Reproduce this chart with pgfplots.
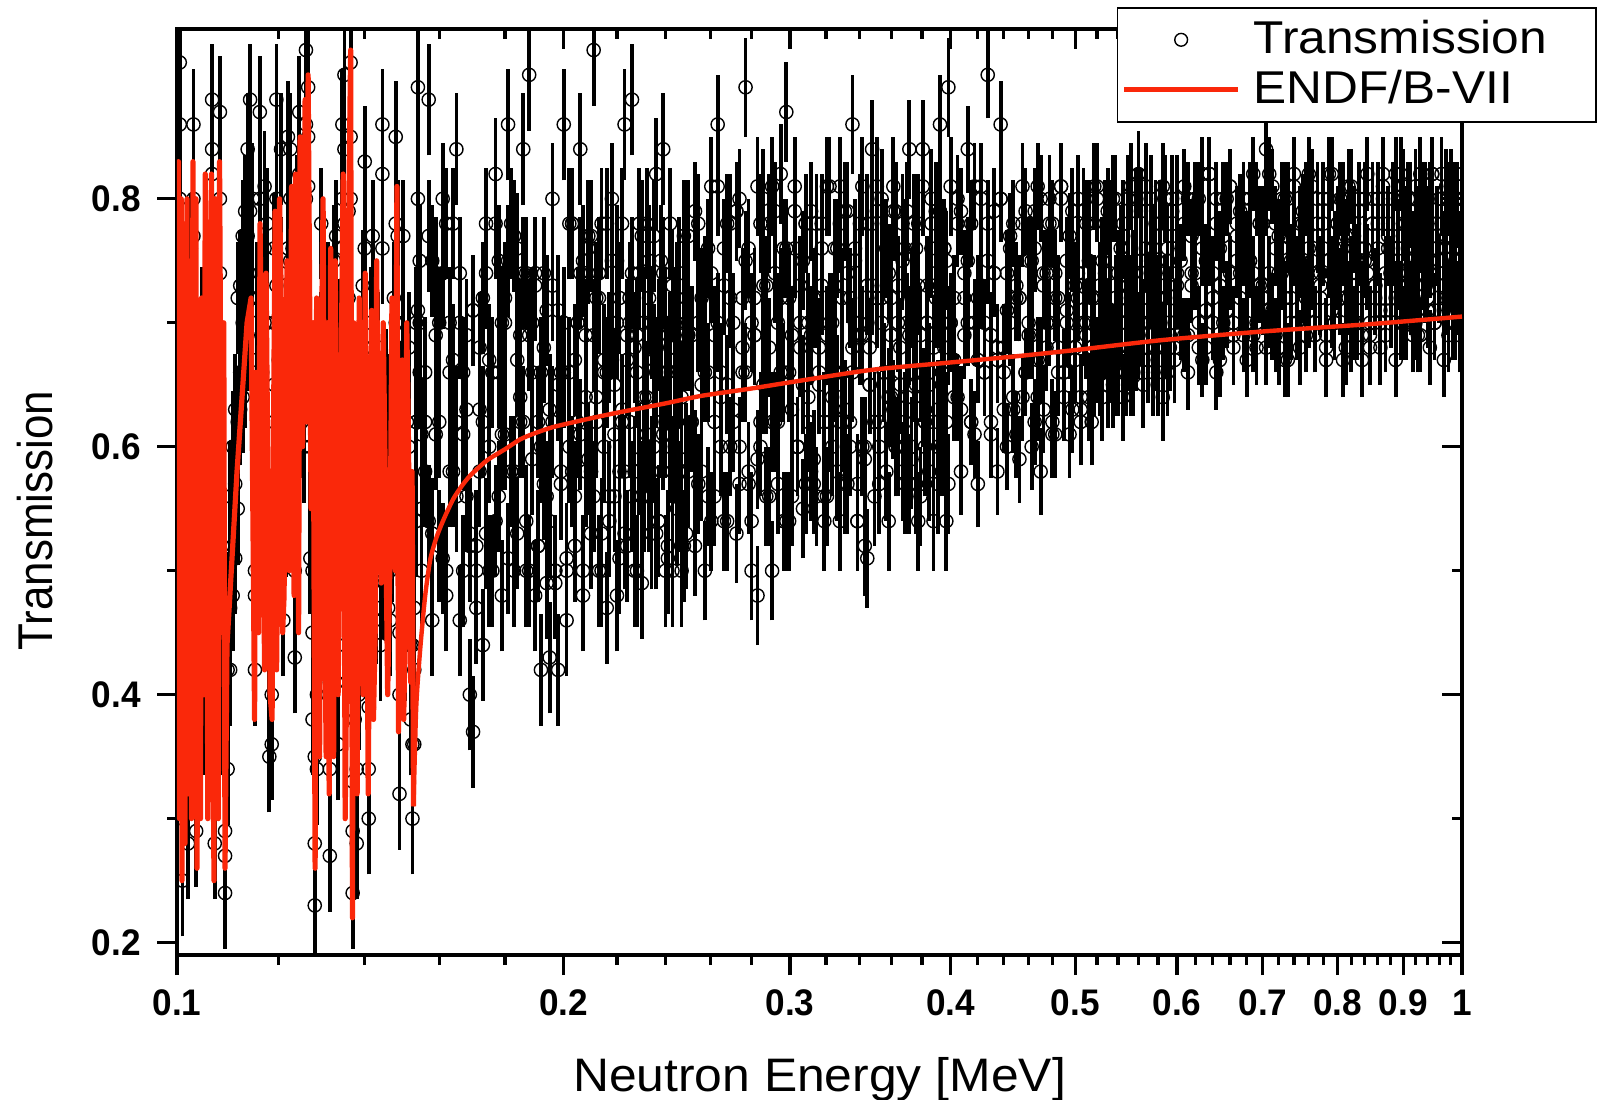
\documentclass[border=0pt]{standalone}
\usepackage{fontspec}
\setmainfont{Liberation Sans}
\newfontfamily\tickfont[FakeStretch=0.95]{Liberation Sans}
\newfontfamily\xlabfont[FakeStretch=1.06]{Liberation Sans}
\newfontfamily\ylabfont[FakeStretch=0.90]{Liberation Sans}
\newfontfamily\legfont[FakeStretch=1.08]{Liberation Sans}
\usepackage{pgfplots}
\usepackage{pgfplotstable}
\pgfplotsset{compat=1.18}
\definecolor{endfred}{RGB}{250,40,10}

% open circle with a vertical error bar of fixed half-length (y unit = 619.8pt)
\newcommand\declarebarmark[2]{%
  \pgfdeclareplotmark{#1}{%
    \pgfsetlinewidth{1.9pt}%
    \pgfpathmoveto{\pgfqpoint{0pt}{-#2}}\pgfpathlineto{\pgfqpoint{0pt}{#2}}%
    \pgfusepathqstroke
    \pgfsetlinewidth{0.7pt}%
    \pgfpathcircle{\pgfpointorigin}{3.3pt}%
    \pgfusepathqstroke}}
\declarebarmark{barA}{27.9pt}% error 0.045
\declarebarmark{barC}{24.8pt}% error 0.040
\declarebarmark{barD}{21.7pt}% error 0.035
\declarebarmark{barE}{18.6pt}% error 0.030

\pgfplotstableread{
x y e y2 y3
0.1000 0.62 0.045 0.69 0.53
0.1005 0.86 0.045 0.80 0.91
0.1010 0.30 0.045 0.35 0.25
0.1015 0.62 0.045 0.54 0.70
0.1020 0.34 0.045 0.43 0.28
0.1025 0.66 0.045 0.62 0.76
0.1030 0.80 0.045 0.86 0.77
0.1035 0.36 0.045 0.29 0.43
0.1040 0.52 0.045 0.59 0.44
0.1045 0.70 0.045 0.64 0.61
0.1050 0.42 0.045 0.47 0.38
0.1055 0.66 0.045 0.58 0.61
0.1060 0.50 0.045 0.59 0.42
0.1065 0.88 0.045 0.84 0.82
0.1070 0.28 0.045 0.34 0.38
0.1075 0.64 0.045 0.57 0.61
0.1080 0.80 0.045 0.87 0.74
0.1085 0.46 0.045 0.40 0.38
0.1090 0.24 0.045 0.29 0.27
0.1095 0.42 0.045 0.34 0.47
0.1100 0.47 0.045 0.56 0.42
0.1105 0.52 0.045 0.48 0.60
0.1110 0.57 0.045 0.63 0.51
0.1115 0.62 0.045 0.55 0.72
0.1120 0.66 0.045 0.73 0.63
0.1125 0.70 0.045 0.64 0.77
0.1130 0.74 0.045 0.79 0.66
0.1135 0.77 0.045 0.69 0.84
0.1140 0.79 0.045 0.88 0.72
0.1145 0.71 0.045 0.67 0.80
0.1150 0.42 0.045 0.48 0.50
0.1155 0.63 0.045 0.56 0.72
0.1160 0.80 0.045 0.87 0.74
0.1165 0.58 0.045 0.52 0.66
0.1170 0.76 0.045 0.81 0.70
0.1175 0.70 0.045 0.62 0.78
0.1180 0.44 0.045 0.53 0.35
0.1185 0.40 0.045 0.36 0.45
0.1190 0.70 0.045 0.76 0.65
0.1195 0.80 0.045 0.73 0.88
0.1200 0.60 0.045 0.67 0.54
0.1205 0.74 0.045 0.68 0.84
0.1210 0.55 0.045 0.60 0.46
0.1215 0.62 0.045 0.54 0.69
0.1220 0.76 0.045 0.85 0.68
0.1225 0.84 0.045 0.80 0.75
0.1230 0.70 0.045 0.76 0.62
0.1235 0.50 0.045 0.43 0.58
0.1240 0.72 0.045 0.79 0.64
0.1245 0.82 0.045 0.76 0.87
0.1250 0.70 0.045 0.75 0.62
0.1255 0.68 0.045 0.60 0.78
0.1260 0.86 0.045 0.92 0.80
0.1265 0.89 0.045 0.85 0.81
0.1270 0.60 0.045 0.66 0.51
0.1275 0.45 0.045 0.38 0.50
0.1280 0.28 0.045 0.35 0.23
0.1285 0.40 0.045 0.34 0.48
0.1290 0.56 0.045 0.61 0.50
0.1295 0.68 0.045 0.60 0.78
0.1300 0.54 0.045 0.63 0.51
0.1305 0.48 0.045 0.44 0.55
0.1310 0.66 0.045 0.72 0.58
0.1315 0.34 0.045 0.27 0.41
0.1320 0.54 0.045 0.61 0.47
0.1325 0.68 0.045 0.62 0.75
0.1330 0.72 0.045 0.77 0.66
0.1335 0.44 0.045 0.36 0.52
0.1340 0.60 0.045 0.69 0.54
0.1345 0.80 0.045 0.76 0.86
0.1350 0.90 0.045 0.84 0.78
0.1355 0.48 0.045 0.41 0.56
0.1360 0.72 0.045 0.79 0.63
0.1365 0.91 0.045 0.85 0.80
0.1370 0.24 0.045 0.29 0.33
0.1375 0.46 0.045 0.38 0.54
0.1380 0.34 0.045 0.43 0.28
0.1385 0.44 0.045 0.40 0.54
0.1390 0.56 0.045 0.62 0.48
0.1395 0.66 0.045 0.59 0.73
0.1400 0.76 0.045 0.83 0.68
0.1405 0.52 0.045 0.46 0.60
0.1410 0.34 0.045 0.39 0.30
0.1415 0.64 0.045 0.56 0.70
0.1420 0.68 0.045 0.77 0.62
0.1425 0.50 0.045 0.46 0.57
0.1430 0.52 0.045 0.58 0.47
0.1435 0.62 0.045 0.55 0.68
0.1440 0.50 0.045 0.57 0.44
0.1445 0.82 0.045 0.76 0.86
0.1450 0.58 0.045 0.63 0.49
0.1455 0.60 0.045 0.52 0.65
0.1460 0.54 0.045 0.63 0.47
0.1465 0.50 0.045 0.46 0.58
0.1470 0.58 0.045 0.64 0.52
0.1475 0.62 0.045 0.55 0.72
0.1480 0.78 0.045 0.85 0.70
0.1485 0.70 0.045 0.64 0.77
0.1490 0.40 0.045 0.45 0.32
0.1495 0.58 0.045 0.50 0.64
0.1500 0.68 0.045 0.77 0.62
0.1505 0.48 0.045 0.44 0.55
0.1510 0.56 0.045 0.62 0.50
0.1515 0.60 0.045 0.53 0.68
0.1520 0.44 0.045 0.51 0.38
0.1525 0.36 0.045 0.30 0.44
0.1530 0.42 0.045 0.47 0.36
0.1535 0.62 0.045 0.54 0.70
0.1540 0.80 0.045 0.89 0.71
0.1545 0.70 0.045 0.66 0.75
0.1550 0.55 0.045 0.61 0.50
0.156 0.62 0.045 0.66 0.58
0.157 0.88 0.045 0.54 0.77
0.158 0.46 0.045 0.75 0.53
0.159 0.74 0.045 0.61 0.69
0.160 0.52 0.045 0.70 0.62
0.161 0.80 0.045 0.51 0.74
0.162 0.48 0.045 0.78 0.50
0.163 0.70 0.045 0.58 0.66
0.164 0.58 0.045 0.67 0.78
0.165 0.84 0.045 0.62 0.56
0.166 0.46 0.045 0.74 0.70
0.167 0.66 0.045 0.50 0.61
0.168 0.56 0.045 0.63 0.69
0.169 0.40 0.045 0.53 0.52
0.170 0.37 0.045 0.71 0.71
0.171 0.52 0.045 0.50 0.47
0.172 0.68 0.045 0.58 0.63
0.173 0.44 0.045 0.72 0.62
0.174 0.78 0.045 0.53 0.74
0.175 0.60 0.045 0.67 0.50
0.176 0.50 0.045 0.66 0.66
0.177 0.82 0.045 0.54 0.78
0.178 0.66 0.045 0.75 0.56
0.179 0.48 0.045 0.61 0.70
0.180 0.72 0.045 0.70 0.61
0.181 0.86 0.045 0.51 0.75
0.182 0.58 0.045 0.78 0.58
0.183 0.50 0.045 0.58 0.77
0.184 0.76 0.045 0.67 0.53
0.185 0.64 0.045 0.62 0.69
0.186 0.84 0.045 0.74 0.62
0.187 0.54 0.045 0.50 0.74
0.188 0.90 0.045 0.69 0.50
0.189 0.70 0.045 0.59 0.66
0.190 0.48 0.045 0.73 0.74
0.191 0.62 0.045 0.52 0.52
0.192 0.42 0.045 0.60 0.66
0.193 0.74 0.045 0.68 0.57
0.194 0.56 0.045 0.49 0.71
0.195 0.43 0.045 0.63 0.54
0.196 0.80 0.045 0.62 0.73
0.197 0.50 0.045 0.50 0.49
0.198 0.42 0.045 0.71 0.65
0.199 0.66 0.045 0.57 0.58
0.200 0.86 0.045 0.66 0.70
0.201 0.46 0.045 0.51 0.50
0.202 0.60 0.045 0.78 0.66
0.203 0.78 0.045 0.58 0.78
0.204 0.52 0.045 0.67 0.56
0.205 0.70 0.045 0.62 0.70
0.206 0.84 0.045 0.74 0.61
0.207 0.48 0.045 0.50 0.75
0.208 0.64 0.045 0.69 0.58
0.209 0.76 0.045 0.59 0.77
0.210 0.58 0.045 0.77 0.53
0.211 0.92 0.045 0.56 0.69
0.212 0.72 0.045 0.64 0.62
0.213 0.50 0.045 0.72 0.74
0.214 0.78 0.045 0.53 0.50
0.215 0.60 0.045 0.67 0.66
0.216 0.47 0.045 0.66 0.78
0.217 0.68 0.045 0.54 0.56
0.218 0.80 0.045 0.75 0.70
0.219 0.56 0.045 0.61 0.65
0.220 0.48 0.045 0.70 0.75
0.221 0.72 0.045 0.51 0.58
0.222 0.62 0.045 0.78 0.63
0.223 0.86 0.045 0.58 0.53
0.224 0.52 0.045 0.67 0.69
0.225 0.70 0.045 0.62 0.72
0.226 0.88 0.045 0.74 0.56
0.227 0.58 0.045 0.50 0.68
0.228 0.50 0.045 0.69 0.66
0.229 0.74 0.045 0.59 0.78
0.230 0.49 0.045 0.77 0.56
0.231 0.64 0.045 0.56 0.70
0.232 0.78 0.045 0.64 0.61
0.233 0.56 0.045 0.72 0.75
0.234 0.70 0.045 0.53 0.58
0.235 0.60 0.045 0.67 0.77
0.236 0.82 0.045 0.66 0.53
0.237 0.54 0.045 0.54 0.69
0.238 0.66 0.045 0.75 0.62
0.239 0.84 0.045 0.61 0.74
0.240 0.62 0.045 0.70 0.50
0.241 0.52 0.045 0.51 0.66
0.242 0.68 0.045 0.78 0.60
0.243 0.50 0.045 0.58 0.73
0.244 0.60 0.045 0.67 0.70
0.245 0.72 0.045 0.62 0.55
0.246 0.56 0.045 0.74 0.66
0.247 0.64 0.045 0.50 0.58
0.248 0.52 0.045 0.69 0.77
0.249 0.70 0.045 0.59 0.53
0.250 0.58 0.045 0.77 0.69
}\tA

\pgfplotstableread{
x y e y2 y3
0.2515 0.62 0.04 0.69 0.62
0.2530 0.52 0.04 0.59 0.79
0.2545 0.70 0.04 0.78 0.57
0.2560 0.58 0.04 0.65 0.72
0.2575 0.50 0.04 0.73 0.66
0.2590 0.66 0.04 0.56 0.76
0.2605 0.74 0.04 0.81 0.54
0.2620 0.56 0.04 0.62 0.69
0.2635 0.86 0.04 0.70 0.81
0.2650 0.64 0.04 0.66 0.60
0.2665 0.54 0.04 0.76 0.73
0.2680 0.78 0.04 0.54 0.65
0.2695 0.60 0.04 0.72 0.78
0.2710 0.70 0.04 0.63 0.62
0.2725 0.53 0.04 0.79 0.79
0.2740 0.80 0.04 0.60 0.57
0.2755 0.66 0.04 0.68 0.72
0.2770 0.89 0.04 0.75 0.66
0.2785 0.58 0.04 0.57 0.76
0.2800 0.50 0.04 0.70 0.54
0.2815 0.72 0.04 0.69 0.69
0.2830 0.48 0.04 0.59 0.81
0.2845 0.62 0.04 0.78 0.60
0.2860 0.80 0.04 0.65 0.73
0.2875 0.56 0.04 0.73 0.65
0.2890 0.68 0.04 0.56 0.78
0.2905 0.50 0.04 0.81 0.62
0.2920 0.74 0.04 0.62 0.79
0.2935 0.62 0.04 0.70 0.57
0.2950 0.82 0.04 0.66 0.72
0.2965 0.54 0.04 0.76 0.66
0.2980 0.87 0.04 0.54 0.76
0.2995 0.66 0.04 0.72 0.54
0.3010 0.56 0.04 0.63 0.69
0.3025 0.76 0.04 0.79 0.81
0.3040 0.60 0.04 0.60 0.60
0.3055 0.70 0.04 0.68 0.73
0.3070 0.55 0.04 0.75 0.65
0.3085 0.78 0.04 0.57 0.78
0.3100 0.64 0.04 0.70 0.62
0.3115 0.58 0.04 0.69 0.79
0.3130 0.72 0.04 0.59 0.57
0.3145 0.56 0.04 0.78 0.72
0.3160 0.68 0.04 0.65 0.66
0.3175 0.78 0.04 0.73 0.76
0.3190 0.62 0.04 0.56 0.54
0.3205 0.56 0.04 0.81 0.69
0.3220 0.70 0.04 0.62 0.81
0.3235 0.64 0.04 0.70 0.60
0.3250 0.76 0.04 0.66 0.73
0.3265 0.58 0.04 0.76 0.65
0.3280 0.81 0.04 0.54 0.78
0.3295 0.66 0.04 0.72 0.62
0.3310 0.57 0.04 0.63 0.79
0.3325 0.74 0.04 0.79 0.57
0.3340 0.62 0.04 0.60 0.72
0.3355 0.86 0.04 0.68 0.66
0.3370 0.70 0.04 0.75 0.76
0.3385 0.54 0.04 0.57 0.54
0.3400 0.78 0.04 0.70 0.69
0.3415 0.60 0.04 0.69 0.81
0.3430 0.52 0.04 0.59 0.60
0.3445 0.51 0.04 0.78 0.73
0.3460 0.68 0.04 0.65 0.65
0.3475 0.84 0.04 0.73 0.78
0.3490 0.62 0.04 0.56 0.62
0.3505 0.72 0.04 0.81 0.79
0.3520 0.60 0.04 0.62 0.57
0.3535 0.80 0.04 0.70 0.72
0.3550 0.66 0.04 0.66 0.66
0.3565 0.58 0.04 0.76 0.76
0.3580 0.74 0.04 0.54 0.64
0.3595 0.64 0.04 0.72 0.69
0.3610 0.79 0.04 0.63 0.81
0.3625 0.60 0.04 0.79 0.60
0.3640 0.70 0.04 0.60 0.73
0.3655 0.66 0.04 0.68 0.65
0.3670 0.58 0.04 0.75 0.78
0.3685 0.76 0.04 0.57 0.62
0.3700 0.64 0.04 0.70 0.79
0.3715 0.84 0.04 0.69 0.57
0.3730 0.60 0.04 0.59 0.72
0.3745 0.72 0.04 0.78 0.66
0.3760 0.57 0.04 0.65 0.76
0.3775 0.78 0.04 0.73 0.54
0.3790 0.66 0.04 0.56 0.69
0.3805 0.84 0.04 0.81 0.64
0.3820 0.62 0.04 0.62 0.60
0.3835 0.70 0.04 0.70 0.73
0.3850 0.58 0.04 0.66 0.65
0.3865 0.80 0.04 0.76 0.78
0.3880 0.68 0.04 0.54 0.62
0.3895 0.74 0.04 0.72 0.79
0.3910 0.60 0.04 0.63 0.57
0.3925 0.86 0.04 0.79 0.72
0.3940 0.66 0.04 0.60 0.66
0.3955 0.76 0.04 0.68 0.76
0.3970 0.62 0.04 0.75 0.54
0.3985 0.89 0.04 0.57 0.69
0.4000 0.70 0.04 0.70 0.81
}\tC

\pgfplotstableread{
x y e y2 y3
0.4025 0.64 0.035 0.72 0.67
0.4050 0.78 0.035 0.64 0.80
0.4075 0.58 0.035 0.79 0.63
0.4100 0.72 0.035 0.69 0.74
0.4125 0.84 0.035 0.75 0.70
0.4150 0.62 0.035 0.62 0.78
0.4175 0.70 0.035 0.81 0.61
0.4200 0.57 0.035 0.67 0.72
0.4225 0.80 0.035 0.73 0.81
0.4250 0.66 0.035 0.70 0.66
0.4275 0.90 0.035 0.78 0.75
0.4300 0.62 0.035 0.61 0.69
0.4325 0.74 0.035 0.74 0.79
0.4350 0.58 0.035 0.68 0.67
0.4375 0.86 0.035 0.80 0.80
0.4400 0.68 0.035 0.66 0.63
0.4425 0.60 0.035 0.71 0.74
0.4450 0.76 0.035 0.77 0.70
0.4475 0.64 0.035 0.63 0.78
0.4500 0.72 0.035 0.73 0.61
0.4525 0.59 0.035 0.72 0.72
0.4550 0.78 0.035 0.64 0.81
0.4575 0.66 0.035 0.79 0.66
0.4600 0.70 0.035 0.69 0.75
0.4625 0.60 0.035 0.75 0.69
0.4650 0.76 0.035 0.62 0.79
0.4675 0.64 0.035 0.81 0.67
0.4700 0.58 0.035 0.67 0.80
0.4725 0.74 0.035 0.73 0.63
0.4750 0.68 0.035 0.70 0.74
0.4775 0.80 0.035 0.78 0.70
0.4800 0.62 0.035 0.61 0.78
0.4825 0.72 0.035 0.74 0.61
0.4850 0.66 0.035 0.68 0.72
0.4875 0.81 0.035 0.80 0.81
0.4900 0.64 0.035 0.66 0.66
0.4925 0.70 0.035 0.71 0.75
0.4950 0.61 0.035 0.77 0.69
0.4975 0.76 0.035 0.63 0.79
0.5000 0.68 0.035 0.73 0.67
0.5025 0.74 0.035 0.72 0.80
0.5050 0.62 0.035 0.64 0.63
0.5075 0.70 0.035 0.79 0.74
0.5100 0.78 0.035 0.69 0.70
0.5125 0.64 0.035 0.75 0.78
0.5150 0.72 0.035 0.62 0.68
0.5175 0.66 0.035 0.81 0.72
0.5200 0.80 0.035 0.67 0.81
0.5225 0.68 0.035 0.73 0.66
0.5250 0.64 0.035 0.70 0.75
0.5275 0.74 0.035 0.78 0.69
0.5300 0.70 0.035 0.65 0.79
0.5325 0.78 0.035 0.74 0.67
0.5350 0.65 0.035 0.68 0.80
0.5375 0.72 0.035 0.80 0.66
0.5400 0.68 0.035 0.66 0.74
0.5425 0.76 0.035 0.71 0.70
0.5450 0.64 0.035 0.77 0.78
0.5475 0.70 0.035 0.66 0.72
0.5500 0.80 0.035 0.73 0.68
0.5525 0.66 0.035 0.72 0.81
0.5550 0.74 0.035 0.67 0.66
0.5575 0.68 0.035 0.79 0.75
0.5600 0.82 0.035 0.69 0.69
0.5625 0.70 0.035 0.75 0.79
0.5650 0.65 0.035 0.70 0.67
0.5675 0.76 0.035 0.81 0.80
0.5700 0.72 0.035 0.67 0.68
0.5725 0.80 0.035 0.73 0.74
0.5750 0.66 0.035 0.70 0.76
0.5775 0.74 0.035 0.78 0.68
0.5800 0.70 0.035 0.72 0.66
0.5825 0.78 0.035 0.74 0.72
0.5850 0.64 0.035 0.68 0.81
0.5875 0.72 0.035 0.80 0.69
0.5900 0.76 0.035 0.66 0.75
0.5925 0.68 0.035 0.71 0.69
0.5950 0.80 0.035 0.77 0.79
0.5975 0.70 0.035 0.68 0.67
0.6000 0.74 0.035 0.73 0.80
}\tD

\pgfplotstableread{
x y e y2 y3
0.604 0.70 0.03 0.75 0.71
0.608 0.78 0.03 0.69 0.81
0.612 0.66 0.03 0.80 0.69
0.616 0.74 0.03 0.73 0.77
0.620 0.80 0.03 0.78 0.74
0.624 0.70 0.03 0.68 0.80
0.628 0.76 0.03 0.82 0.67
0.632 0.68 0.03 0.71 0.75
0.636 0.82 0.03 0.76 0.82
0.640 0.72 0.03 0.74 0.70
0.644 0.66 0.03 0.80 0.78
0.648 0.76 0.03 0.67 0.73
0.652 0.70 0.03 0.77 0.80
0.656 0.80 0.03 0.72 0.71
0.660 0.74 0.03 0.81 0.81
0.664 0.68 0.03 0.70 0.69
0.668 0.78 0.03 0.75 0.77
0.672 0.72 0.03 0.79 0.74
0.676 0.76 0.03 0.69 0.80
0.680 0.70 0.03 0.76 0.67
0.684 0.80 0.03 0.75 0.75
0.688 0.74 0.03 0.69 0.82
0.692 0.68 0.03 0.80 0.70
0.696 0.78 0.03 0.73 0.78
0.700 0.72 0.03 0.78 0.73
0.704 0.84 0.03 0.68 0.80
0.708 0.74 0.03 0.82 0.71
0.712 0.70 0.03 0.71 0.81
0.716 0.78 0.03 0.76 0.69
0.720 0.68 0.03 0.74 0.77
0.724 0.76 0.03 0.80 0.74
0.728 0.72 0.03 0.67 0.80
0.732 0.80 0.03 0.77 0.67
0.736 0.70 0.03 0.72 0.75
0.740 0.76 0.03 0.81 0.82
0.744 0.74 0.03 0.70 0.70
0.748 0.68 0.03 0.75 0.78
0.752 0.78 0.03 0.79 0.73
0.756 0.72 0.03 0.69 0.80
0.760 0.82 0.03 0.76 0.71
0.764 0.74 0.03 0.75 0.81
0.768 0.70 0.03 0.69 0.69
0.772 0.78 0.03 0.80 0.77
0.776 0.72 0.03 0.73 0.74
0.780 0.76 0.03 0.78 0.80
0.784 0.69 0.03 0.68 0.67
0.788 0.80 0.03 0.82 0.75
0.792 0.74 0.03 0.71 0.82
0.796 0.70 0.03 0.76 0.70
0.800 0.78 0.03 0.74 0.78
0.804 0.72 0.03 0.80 0.73
0.808 0.76 0.03 0.67 0.80
0.812 0.68 0.03 0.77 0.71
0.816 0.80 0.03 0.72 0.81
0.820 0.74 0.03 0.81 0.69
0.824 0.78 0.03 0.70 0.77
0.828 0.70 0.03 0.75 0.74
0.832 0.76 0.03 0.79 0.80
0.836 0.72 0.03 0.69 0.67
0.840 0.80 0.03 0.76 0.75
0.844 0.74 0.03 0.75 0.82
0.848 0.68 0.03 0.69 0.70
0.852 0.78 0.03 0.80 0.78
0.856 0.72 0.03 0.73 0.73
0.860 0.76 0.03 0.78 0.80
0.864 0.70 0.03 0.68 0.71
0.868 0.80 0.03 0.82 0.81
0.872 0.74 0.03 0.71 0.69
0.876 0.78 0.03 0.76 0.77
0.880 0.71 0.03 0.74 0.74
0.884 0.76 0.03 0.80 0.80
0.888 0.82 0.03 0.67 0.72
0.892 0.74 0.03 0.77 0.75
0.896 0.70 0.03 0.72 0.82
0.900 0.78 0.03 0.81 0.70
0.904 0.74 0.03 0.70 0.78
0.908 0.80 0.03 0.75 0.73
0.912 0.72 0.03 0.79 0.80
0.916 0.76 0.03 0.69 0.71
0.920 0.70 0.03 0.76 0.81
0.924 0.78 0.03 0.75 0.69
0.928 0.82 0.03 0.69 0.77
0.932 0.74 0.03 0.80 0.74
0.936 0.78 0.03 0.73 0.80
0.940 0.72 0.03 0.78 0.71
0.944 0.80 0.03 0.68 0.75
0.948 0.76 0.03 0.82 0.82
0.952 0.70 0.03 0.71 0.70
0.956 0.78 0.03 0.76 0.78
0.960 0.74 0.03 0.74 0.73
0.964 0.82 0.03 0.80 0.80
0.968 0.76 0.03 0.67 0.71
0.972 0.72 0.03 0.77 0.81
0.976 0.80 0.03 0.72 0.69
0.980 0.74 0.03 0.81 0.77
0.984 0.78 0.03 0.70 0.74
0.988 0.70 0.03 0.75 0.80
0.992 0.80 0.03 0.79 0.72
0.996 0.76 0.03 0.69 0.75
1.000 0.74 0.03 0.76 0.82
}\tE

\pgfplotstableread{
x y
0.10000 0.60
0.10014 0.35
0.10027 0.83
0.10045 0.30
0.10063 0.55
0.10077 0.80
0.10090 0.25
0.10108 0.78
0.10126 0.45
0.10145 0.28
0.10163 0.70
0.10182 0.80
0.10200 0.32
0.10218 0.75
0.10236 0.55
0.10264 0.30
0.10291 0.83
0.10310 0.40
0.10328 0.50
0.10346 0.80
0.10365 0.26
0.10389 0.45
0.10412 0.60
0.10430 0.30
0.10449 0.72
0.10472 0.58
0.10496 0.40
0.10520 0.82
0.10544 0.70
0.10568 0.30
0.10591 0.45
0.10615 0.62
0.10638 0.82
0.10662 0.40
0.10686 0.25
0.10715 0.80
0.10744 0.60
0.10769 0.30
0.10793 0.83
0.10822 0.60
0.10851 0.45
0.10875 0.70
0.10899 0.26
0.10938 0.44
0.11136 0.58
0.11338 0.70
0.11420 0.72
0.11492 0.38
0.11518 0.66
0.11543 0.60
0.11574 0.45
0.11605 0.78
0.11668 0.55
0.11700 0.42
0.11731 0.74
0.11774 0.56
0.11816 0.40
0.11858 0.38
0.11890 0.62
0.11922 0.79
0.11954 0.42
0.11986 0.55
0.12018 0.80
0.12051 0.73
0.12084 0.45
0.12116 0.48
0.12149 0.66
0.12181 0.75
0.12230 0.50
0.12280 0.81
0.12307 0.70
0.12335 0.48
0.12368 0.82
0.12402 0.70
0.12435 0.45
0.12469 0.85
0.12525 0.60
0.12581 0.88
0.12615 0.62
0.12649 0.90
0.12717 0.55
0.12763 0.70
0.12809 0.26
0.12843 0.72
0.12878 0.50
0.12912 0.35
0.12947 0.66
0.12993 0.80
0.13040 0.45
0.13064 0.35
0.13088 0.70
0.13135 0.32
0.13170 0.76
0.13206 0.55
0.13241 0.35
0.13277 0.75
0.13312 0.60
0.13348 0.40
0.13408 0.62
0.13469 0.82
0.13517 0.30
0.13566 0.45
0.13608 0.80
0.13651 0.92
0.13695 0.22
0.13728 0.70
0.13762 0.50
0.13811 0.32
0.13861 0.72
0.13911 0.55
0.13961 0.40
0.14011 0.74
0.14049 0.55
0.14087 0.32
0.14175 0.71
0.14220 0.38
0.14264 0.45
0.14302 0.75
0.14341 0.60
0.14419 0.49
0.14471 0.70
0.14523 0.58
0.14588 0.40
0.14654 0.52
0.14700 0.72
0.14746 0.62
0.14790 0.50
0.14831 0.81
0.14874 0.37
0.14923 0.55
0.14972 0.67
0.15012 0.38
0.15053 0.45
0.15094 0.70
0.15135 0.62
0.15203 0.41
0.15240 0.58
0.15279 0.31
}\endfres

\pgfplotstableread{
x y
0.15279 0.31
0.15353 0.39
0.15464 0.437
0.15603 0.48
0.15744 0.509
0.1590 0.525
0.1603 0.535
0.1620 0.546
0.1641 0.558
0.1665 0.568
0.1692 0.577
0.1743 0.589
0.1800 0.598
0.1850 0.606
0.1900 0.611
0.1964 0.616
0.2100 0.623
0.2214 0.628
0.2400 0.635
0.2557 0.641
0.2800 0.647
0.3000 0.652
0.3469 0.662
0.4000 0.668
0.4500 0.673
0.5000 0.678
0.5837 0.686
0.7000 0.693
0.8500 0.699
1.0000 0.705
}\endfsmooth

\begin{document}
\begin{tikzpicture}
\path[use as bounding box] (-88.5pt,-72pt) rectangle (711pt,477.5pt);
\begin{axis}[
  at={(0pt,0pt)}, anchor=south west,
  scale only axis, width=642.5pt, height=463pt,
  xmode=log, xmin=0.1, xmax=1, ymin=0.19, ymax=0.937,
  xtick={0.1,0.2,0.3,0.4,0.5,0.6,0.7,0.8,0.9,1},
  minor xtick={0.12,0.14,0.16,0.18,0.22,0.24,0.26,0.28,0.32,0.34,0.36,0.38,0.42,0.44,0.46,0.48,0.52,0.54,0.56,0.58,0.62,0.64,0.66,0.68,0.72,0.74,0.76,0.78,0.82,0.84,0.86,0.88,0.92,0.94,0.96,0.98},
  ytick={0.2,0.4,0.6,0.8},
  minor ytick={0.3,0.5,0.7},
  major tick length=10pt, minor tick length=5pt,
  tick style={line width=1.6pt, black},
  axis line style={line width=1.6pt},
  xtick pos=right, ytick pos=right, tick align=inside,
  xticklabels={}, yticklabels={},
]
\addplot[draw=none, forget plot] coordinates {(0.5,0.5)};
\end{axis}
\begin{axis}[
  at={(0pt,0pt)}, anchor=south west,
  scale only axis, width=642.5pt, height=463pt,
  xmode=log, xmin=0.1, xmax=1, ymin=0.19, ymax=0.937,
  clip mode=individual, clip marker paths=true,
  xtick={0.1,0.2,0.3,0.4,0.5,0.6,0.7,0.8,0.9,1},
  minor xtick={0.12,0.14,0.16,0.18,0.22,0.24,0.26,0.28,0.32,0.34,0.36,0.38,0.42,0.44,0.46,0.48,0.52,0.54,0.56,0.58,0.62,0.64,0.66,0.68,0.72,0.74,0.76,0.78,0.82,0.84,0.86,0.88,0.92,0.94,0.96,0.98},
  ytick={0.2,0.4,0.6,0.8},
  minor ytick={0.3,0.5,0.7},
  major tick length=10pt, minor tick length=5pt,
  tick style={line width=1.6pt, black},
  axis line style={line width=1.6pt},
  xtick pos=left, ytick pos=left, tick align=outside,
  xticklabels={0.1,0.2,0.3,0.4,0.5,0.6,0.7,0.8,0.9,1},
  yticklabels={0.2,0.4,0.6,0.8},
  ticklabel style={font=\tickfont\bfseries\fontsize{18.5}{19}\selectfont},
  xticklabel style={anchor=base, inner sep=0pt},
  xticklabel shift=20pt,
  yticklabel style={anchor=east, inner sep=0pt},
  yticklabel shift=8pt,
  xlabel={Neutron Energy [MeV]},
  ylabel={Transmission},
  xlabel style={at={(axis description cs:0.5,-0.1469)}, anchor=base, font=\xlabfont\fontsize{23.5}{25}\selectfont},
  ylabel style={at={(axis description cs:-0.0965,0.469)}, anchor=base, font=\ylabfont\fontsize{24.4}{26}\selectfont},
  legend style={at={(1,1)}, anchor=north east, xshift=67.5pt, yshift=11pt,
    draw=black, line width=0.8pt, fill=white,
    font=\legfont\fontsize{23}{25}\selectfont,
    inner xsep=2pt, inner ysep=3.5pt, row sep=0pt, column sep=0pt,
    nodes={inner xsep=6.5pt, inner ysep=0.5pt, text height=19pt, text depth=5pt}},
  legend cell align=left,
  every axis plot/.append style={black},
]
\addplot[only marks, mark=barA,
  legend image code/.code={\draw[only marks, mark=o, mark size=3.2pt, mark options={line width=0.7pt}] plot coordinates {(28.5pt,0pt)};}]
  table[x=x, y=y]{\tA};
\addlegendentry{Transmission\hspace*{16pt}}
\addplot[only marks, mark=barA, forget plot] table[x=x, y=y2]{\tA};
\addplot[only marks, mark=barA, forget plot] table[x=x, y=y3]{\tA};
\addplot[only marks, mark=barC, forget plot] table[x=x, y=y]{\tC};
\addplot[only marks, mark=barC, forget plot] table[x=x, y=y2]{\tC};
\addplot[only marks, mark=barC, forget plot] table[x=x, y=y3]{\tC};
\addplot[only marks, mark=barD, forget plot] table[x=x, y=y]{\tD};
\addplot[only marks, mark=barD, forget plot] table[x=x, y=y2]{\tD};
\addplot[only marks, mark=barD, forget plot] table[x=x, y=y3]{\tD};
\addplot[only marks, mark=barE, forget plot] table[x=x, y=y]{\tE};
\addplot[only marks, mark=barE, forget plot] table[x=x, y=y2]{\tE};
\addplot[only marks, mark=barE, forget plot] table[x=x, y=y3]{\tE};
\addplot[color=endfred, line width=2.6pt, line join=round, no marks,
  legend image code/.code={\draw[line width=2.5pt] (0pt,0pt) -- (57pt,0pt);}]
  table[x=x, y=y]{\endfres};
\addlegendentry{ENDF/B-VII}
\addplot[color=endfred, line width=2.2pt, no marks, smooth, tension=0.4, forget plot]
  table[x=x, y=y]{\endfsmooth};
\end{axis}
\end{tikzpicture}
\end{document}
